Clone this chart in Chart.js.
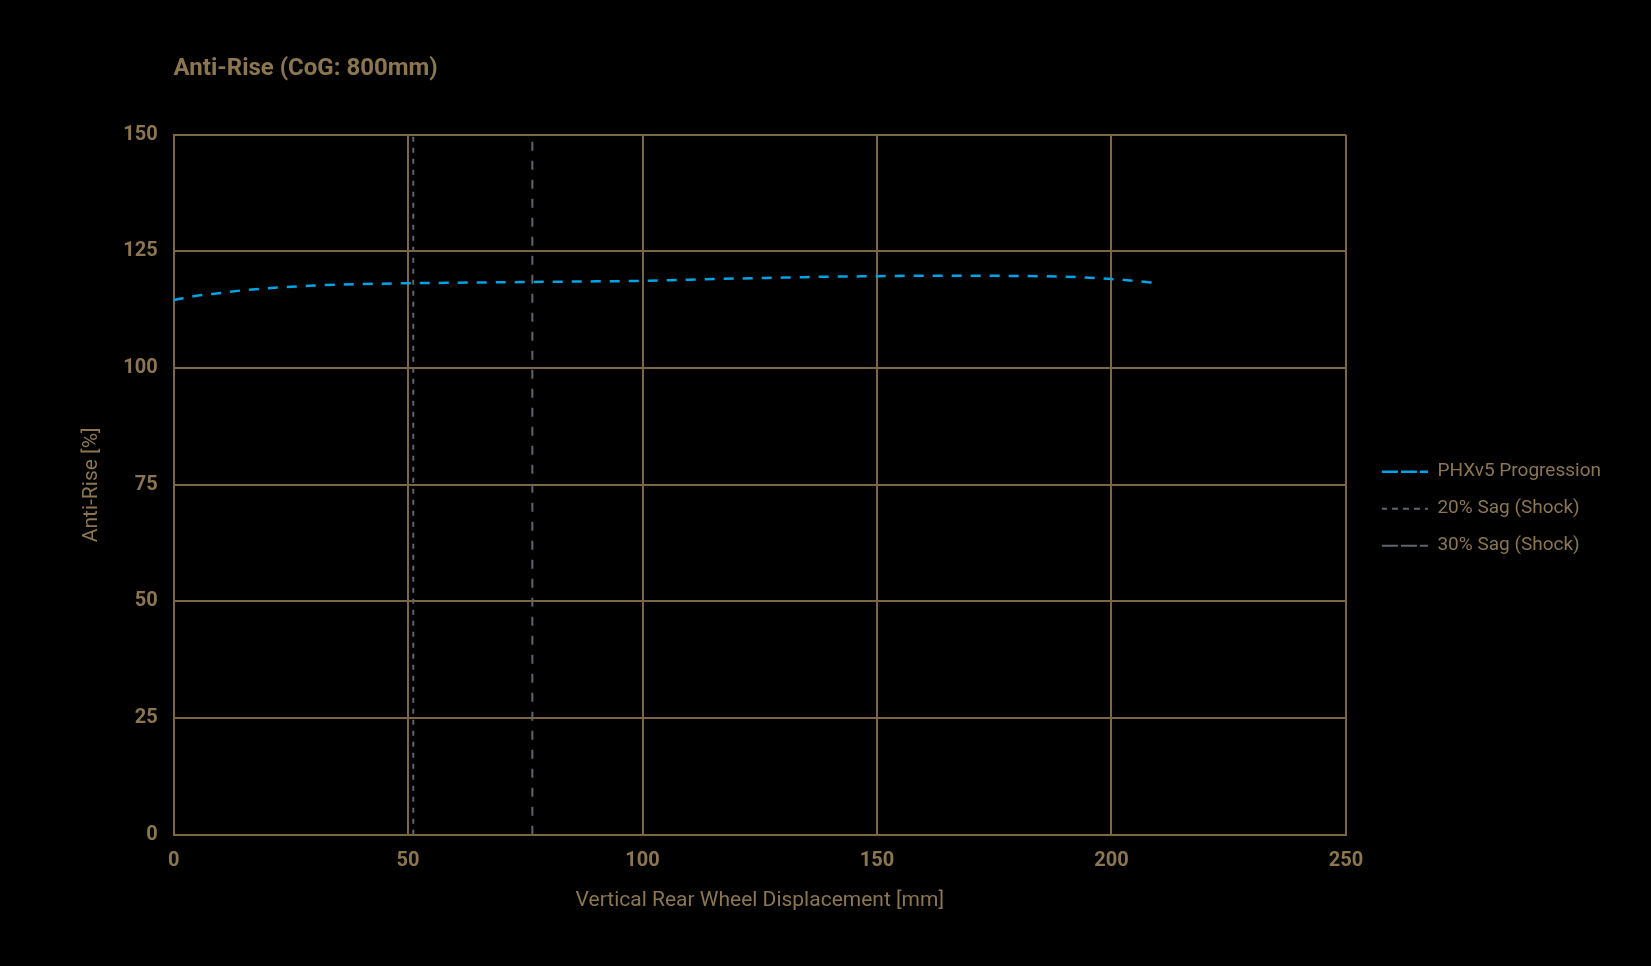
<!DOCTYPE html>
<html>
<head>
<meta charset="utf-8">
<script src="https://cdn.jsdelivr.net/npm/chart.js@4/dist/chart.umd.min.js"></script>
<style>
  html, body { margin: 0; padding: 0; background: #000; }
  canvas { display: block; }
</style>
</head>
<body>
<canvas id="c" width="1651" height="966"></canvas>
<script>
// ---- data ----
const displacement = [0, 5, 10, 15, 20, 30, 40, 50, 60, 70, 80, 90, 100, 110, 120, 130, 140, 150, 160, 170, 180, 190, 200, 205, 210];
const antiRise = [114.6, 115.5, 116.1, 116.7, 117.1, 117.7, 118.0, 118.2, 118.3, 118.4, 118.5, 118.6, 118.7, 118.95, 119.2, 119.4, 119.6, 119.7, 119.8, 119.8, 119.75, 119.6, 119.1, 118.7, 118.2];
const sag20 = 51.1;
const sag30 = 76.5;
const yRange = [0, 150];
const xRange = [0, 250];
const seriesLabels = ['PHXv5 Progression', '20% Sag (Shock)', '30% Sag (Shock)'];
const chartTitle = 'Anti-Rise (CoG: 800mm)';
const xTitle = 'Vertical Rear Wheel Displacement [mm]';
const yTitle = 'Anti-Rise [%]';

// ---- styles ----
const TAN = '#8c7650';
const GRID = '#7c6644';
const BLUE = '#00a3e6';
const GRAY = '#5f646c';
const FONT = 'Roboto, "Liberation Sans", sans-serif';

const mainPts = displacement.map((x, i) => ({ x: x, y: antiRise[i] }));
const sag20Pts = yRange.map(y => ({ x: sag20, y: y }));
const sag30Pts = yRange.map(y => ({ x: sag30, y: y }));

new Chart(document.getElementById('c'), {
  type: 'line',
  data: {
    datasets: [
      { label: seriesLabels[0], data: mainPts, borderColor: BLUE, backgroundColor: BLUE,
        borderWidth: 2.5, borderDash: [10, 9], pointRadius: 0, tension: 0.3, cubicInterpolationMode: 'monotone' },
      { label: seriesLabels[1], data: sag20Pts, borderColor: GRAY, backgroundColor: GRAY,
        borderWidth: 2, borderDash: [5, 6], pointRadius: 0 },
      { label: seriesLabels[2], data: sag30Pts, borderColor: GRAY, backgroundColor: GRAY,
        borderWidth: 2, borderDash: [9, 10], pointRadius: 0 }
    ]
  },
  options: {
    responsive: false,
    animation: false,
    layout: { padding: { left: 0, right: 40, top: 0, bottom: 0 } },
    scales: {
      x: {
        type: 'linear', min: xRange[0], max: xRange[1],
        ticks: { stepSize: 50, color: TAN, padding: 14.5, font: { family: FONT, size: 20, weight: 'bold' } },
        grid: { color: GRID, lineWidth: 2, drawTicks: false },
        border: { color: GRID, width: 2 },
        title: { display: true, text: xTitle, color: TAN, font: { family: FONT, size: 21 }, padding: { top: 0, bottom: 53 } }
      },
      y: {
        type: 'linear', min: yRange[0], max: yRange[1],
        ticks: { stepSize: 25, color: TAN, padding: 16, font: { family: FONT, size: 20, weight: 'bold' } },
        grid: { color: GRID, lineWidth: 2, drawTicks: false },
        border: { color: GRID, width: 2 },
        title: { display: true, text: yTitle, color: TAN, font: { family: FONT, size: 21 }, padding: { top: 79, bottom: 3 } }
      },
      spacer: {
        type: 'linear', position: 'right', display: true,
        grid: { display: false, drawOnChartArea: false },
        border: { display: false },
        ticks: { display: false },
        afterFit: (s) => { s.width = 18; }
      }
    },
    plugins: {
      title: {
        display: true, text: chartTitle, align: 'start', fullSize: false, color: TAN,
        font: { family: FONT, size: 24, weight: 'bold' }, padding: { top: 55, bottom: 51 }
      },
      legend: {
        position: 'right', align: 'center',
        title: { display: true, text: '', padding: { top: 0, bottom: 37 }, font: { size: 12 } },
        labels: { color: TAN, boxWidth: 46, boxHeight: 0, padding: 18, font: { family: FONT, size: 19 } }
      },
      tooltip: { enabled: false }
    }
  }
});
</script>
</body>
</html>
